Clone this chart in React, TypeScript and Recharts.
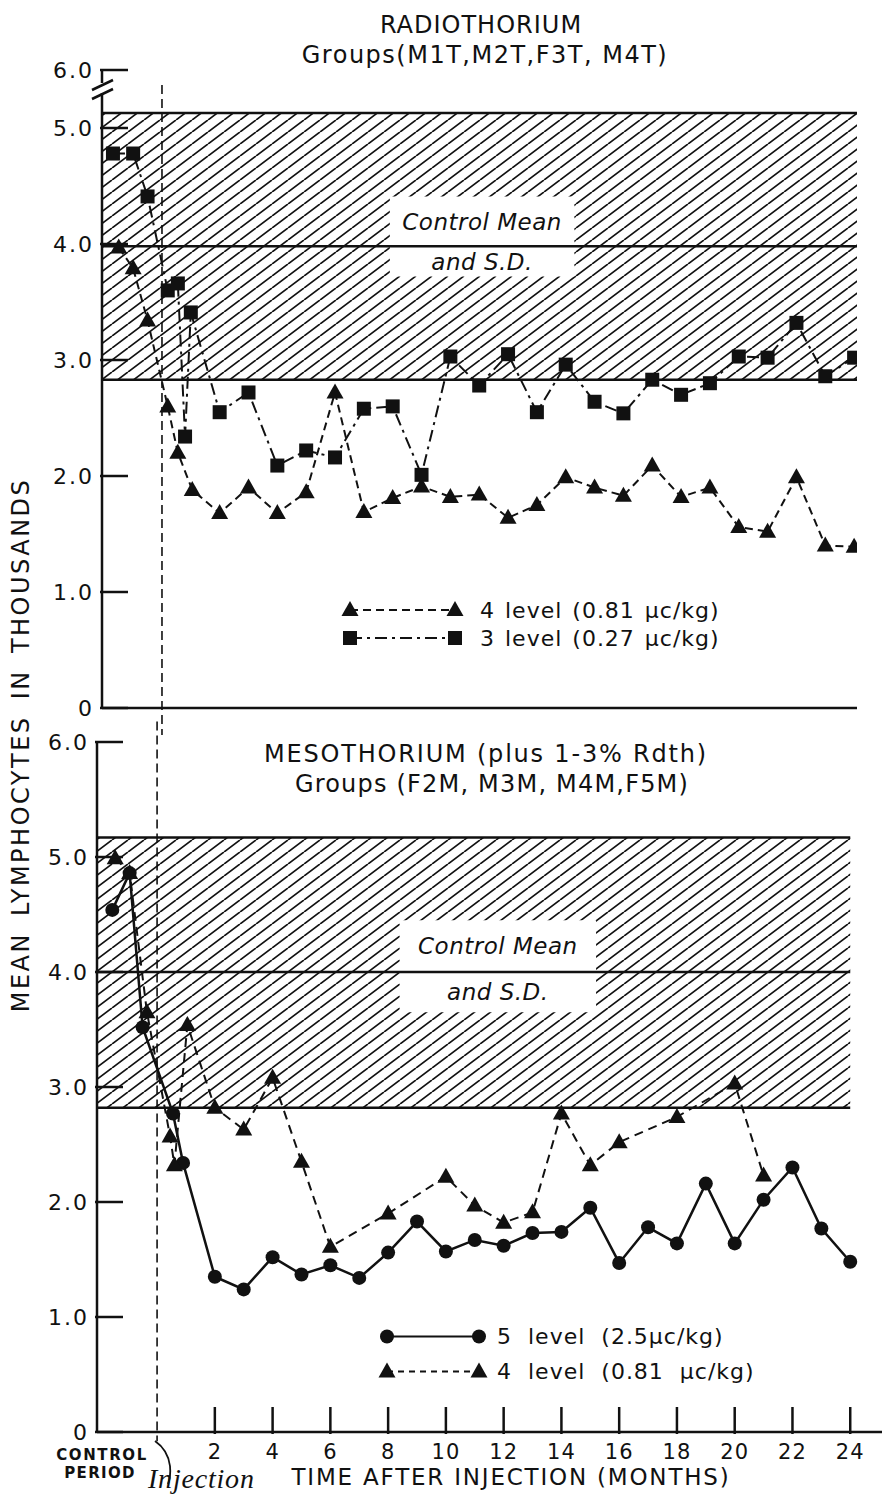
import React from 'react';
import { LineChart, Line, XAxis, YAxis, ReferenceArea, ReferenceLine, Legend, Label } from 'recharts';

const INK = '#111';
const SANS = '"DejaVu Sans", Arial, sans-serif';

// Radiothorium groups (M1T, M2T, F3T, M4T) - months after injection, values in thousands
const thLevel4Months = [-1.5, -1.0, -0.5, 0.2, 0.55, 1.05, 2, 3, 4, 5, 6, 7, 8, 9, 10, 11, 12, 13, 14, 15, 16, 17, 18, 19, 20, 21, 22, 23, 24];
const thLevel4Values = [3.97, 3.79, 3.34, 2.6, 2.2, 1.88, 1.68, 1.9, 1.68, 1.86, 2.72, 1.69, 1.81, 1.91, 1.82, 1.84, 1.64, 1.75, 1.99, 1.9, 1.83, 2.09, 1.82, 1.9, 1.56, 1.52, 1.99, 1.4, 1.39];
const thLevel3Months = [-1.7, -1.0, -0.5, 0.2, 0.55, 0.8, 1.0, 2, 3, 4, 5, 6, 7, 8, 9, 10, 11, 12, 13, 14, 15, 16, 17, 18, 19, 20, 21, 22, 23, 24];
const thLevel3Values = [4.78, 4.78, 4.41, 3.6, 3.66, 2.34, 3.41, 2.55, 2.72, 2.09, 2.22, 2.16, 2.58, 2.6, 2.01, 3.03, 2.78, 3.05, 2.55, 2.96, 2.64, 2.54, 2.83, 2.7, 2.8, 3.03, 3.02, 3.32, 2.86, 3.02];
const thControl = [2.83, 3.98, 5.13]; // low, mean, high

// Mesothorium groups (F2M, M3M, M4M, F5M)
const msLevel5Months = [-1.55, -0.95, -0.5, 0.55, 0.9, 2, 3, 4, 5, 6, 7, 8, 9, 10, 11, 12, 13, 14, 15, 16, 17, 18, 19, 20, 21, 22, 23, 24];
const msLevel5Values = [4.54, 4.86, 3.52, 2.77, 2.34, 1.35, 1.24, 1.52, 1.37, 1.45, 1.34, 1.56, 1.83, 1.57, 1.67, 1.62, 1.73, 1.74, 1.95, 1.47, 1.78, 1.64, 2.16, 1.64, 2.02, 2.3, 1.77, 1.48];
const msLevel4Months = [-1.45, -0.95, -0.35, 0.45, 0.6, 1.05, 2, 3, 4, 5, 6, 8, 10, 11, 12, 13, 14, 15, 16, 18, 20, 21];
const msLevel4Values = [4.99, 4.86, 3.65, 2.57, 2.32, 3.54, 2.82, 2.63, 3.08, 2.35, 1.61, 1.9, 2.22, 1.97, 1.82, 1.91, 2.77, 2.32, 2.52, 2.74, 3.03, 2.23];
const msControl = [2.82, 4.0, 5.17];

const monthTicks = [2, 4, 6, 8, 10, 12, 14, 16, 18, 20, 22, 24];
const topYTicks = [0, 1, 2, 3, 4, 5, 5.5]; // 5.5 sits above the axis break and reads 6.0
const bottomYTicks = [0, 1, 2, 3, 4, 5, 6];

const toPoints = (months: number[], values: number[]) => months.map((x, i) => ({ x, y: values[i] }));

const Marker = ({ shape, cx, cy }: { shape: string; cx: number; cy: number }) => {
  if (cx == null || cy == null) return null;
  if (shape === 'triangle')
    return <path d={`M${cx},${cy - 9}L${cx + 8.5},${cy + 6}L${cx - 8.5},${cy + 6}Z`} fill={INK} />;
  if (shape === 'square') return <rect x={cx - 7} y={cy - 7} width={14} height={14} fill={INK} />;
  return <circle cx={cx} cy={cy} r={7} fill={INK} />;
};

const dotOf = (shape: string) => (p: any) => <Marker key={`${shape}-${p.index}`} shape={shape} cx={p.cx} cy={p.cy} />;

const YTick = ({ x, y, payload, brokenTop }: any) => {
  const v = payload.value;
  const text = v === 0 ? '0' : brokenTop && v === 5.5 ? '6.0' : v.toFixed(1);
  return (
    <g>
      <line x1={x} y1={y} x2={x + 28} y2={y} stroke={INK} strokeWidth={2.5} />
      <text x={x - 6} y={y + 8} textAnchor="end" fontFamily={SANS} fontSize={22} letterSpacing={2} fill={INK}>
        {text}
      </text>
    </g>
  );
};

const XTick = ({ x, y, payload }: any) => (
  <g>
    <line x1={x} y1={y} x2={x} y2={y - 27} stroke={INK} strokeWidth={2.5} />
    <text x={x} y={y + 25} textAnchor="middle" fontFamily={SANS} fontSize={21} letterSpacing={1} fill={INK}>
      {payload.value}
    </text>
  </g>
);

type LegendRow = { label: string; shape: string; dash?: string };

const legendContent = (rows: LegendRow[], rowH: number, gap: number, textGap: number, wordSpacing: number) => () => (
  <div style={{ fontFamily: SANS, fontSize: 22, color: INK }}>
    {rows.map((r) => (
      <div key={r.label} style={{ display: 'flex', alignItems: 'center', height: rowH }}>
        <svg width={gap + 20} height={rowH}>
          <line x1={10} x2={10 + gap} y1={rowH / 2} y2={rowH / 2} stroke={INK} strokeWidth={2} strokeDasharray={r.dash} />
          <Marker shape={r.shape} cx={10} cy={rowH / 2} />
          <Marker shape={r.shape} cx={10 + gap} cy={rowH / 2} />
        </svg>
        <span style={{ marginLeft: textGap, whiteSpace: 'nowrap', letterSpacing: 1, wordSpacing }}>{r.label}</span>
      </div>
    ))}
  </div>
);

const bandLabel = (value: string) => (
  <Label value={value} position="center" fill={INK} fontSize={23} fontStyle="italic" fontFamily={SANS} letterSpacing={0.5} />
);

const axisStyle = { stroke: INK, strokeWidth: 2.5 };

const App = () => {
  const thL4 = toPoints(thLevel4Months, thLevel4Values);
  const thL3 = toPoints(thLevel3Months, thLevel3Values);
  const msL5 = toPoints(msLevel5Months, msLevel5Values);
  const msL4 = toPoints(msLevel4Months, msLevel4Values);

  return (
    <div style={{ position: 'absolute', left: 0, top: 0, width: 882, height: 1495, background: '#fff' }}>
      <svg width={0} height={0} style={{ position: 'absolute' }}>
        <defs>
          <pattern id="hatch" patternUnits="userSpaceOnUse" width={16} height={12}>
            <path d="M0,12 L16,0 M-16,12 L0,0 M16,12 L32,0" stroke={INK} strokeWidth={1.7} />
          </pattern>
        </defs>
      </svg>

      {/* Radiothorium */}
      <div style={{ position: 'absolute', left: 0, top: 0 }}>
        <LineChart width={882} height={735} margin={{ top: 70, right: 25, bottom: 0, left: 42 }}>
          <XAxis type="number" dataKey="x" domain={[-2.08, 24.1]} allowDataOverflow height={27} tick={false} tickLine={false} axisLine={axisStyle} />
          <YAxis type="number" domain={[0, 5.5]} ticks={topYTicks} interval={0} allowDataOverflow width={60} tickSize={0} tickLine={false} axisLine={axisStyle} tick={(p: any) => <YTick key={p.index} {...p} brokenTop />} />
          <ReferenceArea y1={thControl[0]} y2={thControl[2]} fill="url(#hatch)" fillOpacity={1} stroke="none" />
          <ReferenceArea x1={7.9} x2={14.3} y1={thControl[1]} y2={4.41} fill="#fff" fillOpacity={1} stroke="none">
            {bandLabel('Control Mean')}
          </ReferenceArea>
          <ReferenceArea x1={7.9} x2={14.3} y1={3.72} y2={thControl[1]} fill="#fff" fillOpacity={1} stroke="none">
            {bandLabel('and S.D.')}
          </ReferenceArea>
          {thControl.map((v) => (
            <ReferenceLine key={v} y={v} stroke={INK} strokeWidth={2.5} />
          ))}
          <ReferenceLine segment={[{ x: 0, y: 5.37 }, { x: 0, y: -0.3 }]} stroke={INK} strokeWidth={1.6} strokeDasharray="9 5" ifOverflow="visible" />
          <Line data={thL4} dataKey="y" name="4 level (0.81 μc/kg)" type="linear" stroke={INK} strokeWidth={2} strokeDasharray="8 5" dot={dotOf('triangle')} activeDot={false} isAnimationActive={false} />
          <Line data={thL3} dataKey="y" name="3 level (0.27 μc/kg)" type="linear" stroke={INK} strokeWidth={2} strokeDasharray="12 5 3 5" dot={dotOf('square')} activeDot={false} isAnimationActive={false} />
          <Legend
            layout="horizontal"
            verticalAlign="middle"
            align="center"
            wrapperStyle={{ left: 340, top: 596, width: 520 }}
            content={legendContent(
              [
                { label: '4 level (0.81 μc/kg)', shape: 'triangle', dash: '8 5' },
                { label: '3 level (0.27 μc/kg)', shape: 'square', dash: '12 5 3 5' },
              ],
              28, 105, 15, 2
            )}
          />
        </LineChart>
      </div>

      {/* Mesothorium */}
      <div style={{ position: 'absolute', left: 0, top: 720 }}>
        <LineChart width={882} height={775} margin={{ top: 22, right: 0, bottom: 0, left: 37 }}>
          <XAxis type="number" dataKey="x" domain={[-2.08, 25.1]} allowDataOverflow height={63} ticks={monthTicks} interval={0} tickSize={0} tickLine={false} axisLine={axisStyle} tick={(p: any) => <XTick key={p.index} {...p} />} />
          <YAxis type="number" domain={[0, 6]} ticks={bottomYTicks} interval={0} allowDataOverflow width={60} tickSize={0} tickLine={false} axisLine={axisStyle} tick={(p: any) => <YTick key={p.index} {...p} />} />
          <ReferenceArea x2={24} y1={msControl[0]} y2={msControl[2]} fill="url(#hatch)" fillOpacity={1} stroke="none" />
          <ReferenceArea x1={8.4} x2={15.2} y1={msControl[1]} y2={4.45} fill="#fff" fillOpacity={1} stroke="none">
            {bandLabel('Control Mean')}
          </ReferenceArea>
          <ReferenceArea x1={8.4} x2={15.2} y1={3.65} y2={msControl[1]} fill="#fff" fillOpacity={1} stroke="none">
            {bandLabel('and S.D.')}
          </ReferenceArea>
          {msControl.map((v) => (
            <ReferenceLine key={v} segment={[{ x: -2.08, y: v }, { x: 24, y: v }]} stroke={INK} strokeWidth={2.5} />
          ))}
          <ReferenceLine segment={[{ x: 0, y: 6.3 }, { x: 0, y: -0.08 }]} stroke={INK} strokeWidth={1.6} strokeDasharray="9 5" ifOverflow="visible" />
          <Line data={msL5} dataKey="y" name="5 level (2.5μc/kg)" type="linear" stroke={INK} strokeWidth={2.5} dot={dotOf('circle')} activeDot={false} isAnimationActive={false} />
          <Line data={msL4} dataKey="y" name="4 level (0.81 μc/kg)" type="linear" stroke={INK} strokeWidth={2} strokeDasharray="9 6" dot={dotOf('triangle')} activeDot={false} isAnimationActive={false} />
          <Legend
            layout="horizontal"
            verticalAlign="middle"
            align="center"
            wrapperStyle={{ left: 377, top: 599, width: 500 }}
            content={legendContent(
              [
                { label: '5 level (2.5μc/kg)', shape: 'circle' },
                { label: '4 level (0.81 μc/kg)', shape: 'triangle', dash: '6 5' },
              ],
              35, 92, 8, 8
            )}
          />
        </LineChart>
      </div>

      {/* titles, axis titles and annotations */}
      <svg width={882} height={1495} style={{ position: 'absolute', left: 0, top: 0, pointerEvents: 'none' }} fontFamily={SANS} fill={INK}>
        <text x={481} y={33} textAnchor="middle" fontSize={24} letterSpacing={1}>RADIOTHORIUM</text>
        <text x={485} y={63} textAnchor="middle" fontSize={24} letterSpacing={1.5}>Groups(M1T,M2T,F3T, M4T)</text>
        <text x={486} y={762} textAnchor="middle" fontSize={24} letterSpacing={1.8}>MESOTHORIUM (plus 1-3% Rdth)</text>
        <text x={492} y={792} textAnchor="middle" fontSize={24} letterSpacing={1.2}>Groups (F2M, M3M, M4M,F5M)</text>
        <text transform="translate(21,745) rotate(-90)" textAnchor="middle" dominantBaseline="central" fontSize={24} letterSpacing={2.5} wordSpacing={6}>
          MEAN LYMPHOCYTES IN THOUSANDS
        </text>
        <text x={511} y={1485} textAnchor="middle" fontSize={23} letterSpacing={1.8}>TIME AFTER INJECTION (MONTHS)</text>
        <text x={102} y={1460} textAnchor="middle" fontSize={15} fontWeight="bold" letterSpacing={1.6}>CONTROL</text>
        <text x={100} y={1478} textAnchor="middle" fontSize={15} fontWeight="bold" letterSpacing={1.3}>PERIOD</text>
        <text x={148} y={1488} fontSize={28} fontStyle="italic" letterSpacing={0.8} fontFamily='"Liberation Serif", serif'>Injection</text>
        <path d="M155,1441 Q168,1450 170,1466 Q171,1476 168,1484" fill="none" stroke={INK} strokeWidth={1.8} />
        <rect x={96} y={83} width={12} height={10} fill="#fff" />
        <path d="M92,90 L113,80 M92,99 L113,89" fill="none" stroke={INK} strokeWidth={2.5} />
      </svg>
    </div>
  );
};

export default App;
